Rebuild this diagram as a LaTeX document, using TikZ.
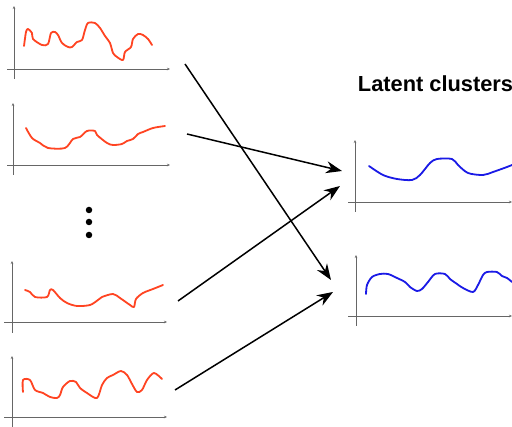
\documentclass[tikz,border=0pt]{standalone}
\usepackage{fontspec}
\setmainfont{Liberation Sans}
\usetikzlibrary{arrows.meta}
\definecolor{curvered}{HTML}{FF4422}
\definecolor{curveblue}{HTML}{1A1AE6}
\tikzset{
  axis/.style={draw=gray!80!black, line width=0.8pt, -{Stealth[length=3pt,width=2.5pt]}},
  redcurve/.style={draw=curvered, line width=1.8pt, line join=round, line cap=round},
  bluecurve/.style={draw=curveblue, line width=1.8pt, line join=round, line cap=round},
  link/.style={draw=black, line width=1.5pt, -{Stealth[length=16pt,width=12pt]}},
  dot/.style={circle, fill=black, inner sep=0pt, minimum size=6.5pt}
}
\begin{document}
\begin{tikzpicture}[x=1pt,y=-1pt]
\useasboundingbox[fill=white] (0,0) rectangle (512,427);
% plot 1
\draw[axis] (14,79) -- (14,6);
\draw[axis] (7,69) -- (170,69);
\draw[redcurve] plot[smooth,tension=0.5] coordinates {(24,46) (26,32) (28,29) (32,33) (33,39) (42,45) (48,44) (51,33) (55,32) (58,35) (62,43) (68,47) (72,47) (77,42) (82,40) (85,30) (88,23) (95,23) (100,28) (105,36) (110,43) (113,53) (117,57) (123,60) (125,52) (131,47) (133,39) (138,34) (143,35) (148,39) (152,45)};
% plot 2
\draw[axis] (13,175) -- (13,103);
\draw[axis] (7,165) -- (170,165);
\draw[redcurve] plot[smooth,tension=0.5] coordinates {(26,128) (32,138) (40,143) (48,148) (65,148) (73,139) (80,137) (87,131) (95,131) (97,135) (107,143) (113,145) (122,144) (127,141) (133,139) (138,134) (143,132) (153,128) (165,126)};
% dots
\node[dot] (d1) at (89,210) {};
\node[dot] (d2) at (89,222) {};
\node[dot] (d3) at (89,235) {};
% plot 3
\draw[axis] (12,333) -- (12,261);
\draw[axis] (4,322) -- (167,322);
\draw[redcurve] plot[smooth,tension=0.5] coordinates {(25,290) (30,292) (35,297) (47,297) (50,290) (53,290) (60,298) (67,303) (77,306) (90,305) (98,300) (102,297) (113,294) (120,298) (130,305) (134,307) (136,299) (143,293) (153,289) (163,285)};
% plot 4
\draw[axis] (12,427) -- (12,356);
\draw[axis] (4,417) -- (167,417);
\draw[redcurve] plot[smooth,tension=0.5] coordinates {(23,392) (23,380) (30,380) (35,390) (43,393) (50,397) (57,398) (60,395) (63,387) (70,381) (76,382) (80,388) (87,393) (97,398) (102,385) (107,378) (113,375) (121,371) (127,375) (132,384) (137,392) (142,390) (147,380) (154,373) (162,379)};
% title
\node[font=\bfseries\fontsize{21.8}{26}\selectfont, inner sep=0pt] (title) at (435.5,84) {Latent clusters};
% right plot 1
\draw[axis] (355,212) -- (355,140);
\draw[axis] (348,202) -- (512,202);
\draw[bluecurve] plot[smooth,tension=0.5] coordinates {(369,166) (383,175) (397,179) (412,180) (420,175) (430,163) (437,159) (452,159) (458,165) (468,173) (483,175) (493,172) (507,167) (512,165)};
% right plot 2
\draw[axis] (356,326) -- (356,255);
\draw[axis] (348,316) -- (512,316);
\draw[bluecurve] plot[smooth,tension=0.5] coordinates {(366,294) (367,285) (372,277) (380,274) (388,274) (397,278) (405,282) (410,287) (417,291) (422,289) (428,282) (435,274) (445,274) (450,279) (457,284) (463,288) (473,292) (478,285) (483,275) (487,272) (497,272) (502,276) (507,278) (512,282)};
% arrow endpoints
\coordinate (s1) at (185,64);
\coordinate (s2) at (187,134);
\coordinate (s3) at (178,301);
\coordinate (s4) at (175,390);
\coordinate (c1a) at (342,171);
\coordinate (c1b) at (340,186);
\coordinate (c2a) at (331,280);
\coordinate (c2b) at (333,292);
\draw[link] (s1) -- (c2a);
\draw[link] (s2) -- (c1a);
\draw[link] (s3) -- (c1b);
\draw[link] (s4) -- (c2b);
\end{tikzpicture}
\end{document}
